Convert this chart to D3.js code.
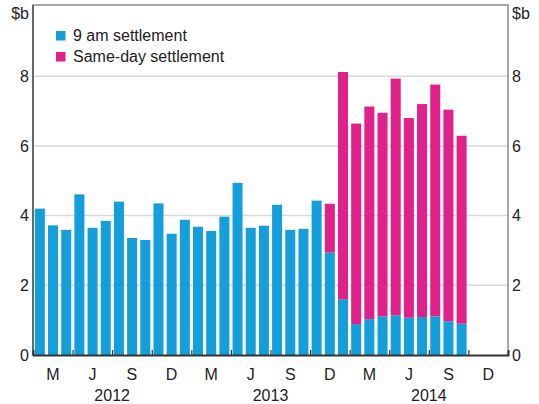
<!DOCTYPE html>
<html>
<head>
<meta charset="utf-8">
<script src="https://cdn.jsdelivr.net/npm/d3@7"></script>
<style>
  body { margin: 0; background: #fff; }
  svg { display: block; font-family: Arial, "Liberation Sans", sans-serif; }
</style>
</head>
<body>
<div id="chart"></div>
<script>
// Months on the axis (Jan 2012 - Dec 2014) and the months that have bars
const axisMonths = d3.timeMonth.range(new Date(2012, 0, 1), new Date(2015, 0, 1)).map(d3.timeFormat("%Y-%m"));
const months = [
  "2012-01", "2012-02", "2012-03", "2012-04", "2012-05", "2012-06",
  "2012-07", "2012-08", "2012-09", "2012-10", "2012-11", "2012-12",
  "2013-01", "2013-02", "2013-03", "2013-04", "2013-05", "2013-06",
  "2013-07", "2013-08", "2013-09", "2013-10", "2013-11", "2013-12",
  "2014-01", "2014-02", "2014-03", "2014-04", "2014-05", "2014-06",
  "2014-07", "2014-08", "2014-09"
];
// $b
const nineAm = [
  4.20, 3.72, 3.59, 4.61, 3.65, 3.85, 4.40, 3.36, 3.30, 4.35, 3.48, 3.88,
  3.68, 3.56, 3.97, 4.94, 3.65, 3.71, 4.31, 3.59, 3.62, 4.43, 2.94, 1.60,
  0.89, 1.03, 1.11, 1.14, 1.07, 1.09, 1.11, 0.97, 0.90
];
const sameDay = [
  0, 0, 0, 0, 0, 0, 0, 0, 0, 0, 0, 0,
  0, 0, 0, 0, 0, 0, 0, 0, 0, 0, 1.40, 6.52,
  5.75, 6.10, 5.84, 6.79, 5.73, 6.11, 6.65, 6.07, 5.39
];
const quarterLabels = ["M", "J", "S", "D"];
const years = ["2012", "2013", "2014"];
const yTicks = [0, 2, 4, 6, 8];
const seriesNames = ["9 am settlement", "Same-day settlement"];
const colors = ["#149fdb", "#e0218a"];

const W = 539, H = 404;
const plot = { left: 33, right: 508, top: 5, bottom: 355 };

const svg = d3.select("#chart").append("svg")
    .attr("width", W)
    .attr("height", H);

const x = d3.scaleBand()
    .domain(axisMonths)
    .range([plot.left, plot.right])
    .paddingInner(0.24)
    .paddingOuter(0.14);

// month index scale for ticks and labels
const xm = d3.scaleLinear().domain([0, axisMonths.length]).range([plot.left, plot.right]);

const y = d3.scaleLinear().domain([0, 10]).range([plot.bottom, 6.5]);

// gridlines
svg.append("g")
  .selectAll("line")
  .data(yTicks.filter(d => d > 0))
  .enter().append("line")
    .attr("x1", plot.left)
    .attr("x2", plot.right)
    .attr("y1", d => y(d))
    .attr("y2", d => y(d))
    .attr("stroke", "#d9d9d9")
    .attr("stroke-width", 1.5);

// stacked bars
const table = months.map((m, i) => ({ month: m, a: nineAm[i], b: sameDay[i] }));
const stacked = d3.stack().keys(["a", "b"])(table);

svg.append("g")
  .selectAll("g")
  .data(stacked)
  .enter().append("g")
    .attr("fill", (d, i) => colors[i])
  .selectAll("rect")
  .data(d => d.filter(p => p[1] > p[0]))
  .enter().append("rect")
    .attr("x", d => x(d.data.month))
    .attr("width", x.bandwidth())
    .attr("y", d => y(d[1]))
    .attr("height", d => y(d[0]) - y(d[1]));

// frame
svg.append("path")
    .attr("d", `M${plot.left},${plot.bottom}V${plot.top}H${plot.right}V${plot.bottom}`)
    .attr("fill", "none")
    .attr("stroke", "#8c8c8c")
    .attr("stroke-width", 1.5);
svg.append("line")
    .attr("x1", plot.left).attr("x2", plot.left)
    .attr("y1", plot.top).attr("y2", plot.bottom)
    .attr("stroke", "#555")
    .attr("stroke-width", 1.5);

// x axis with quarter ticks pointing up
const xAxis = d3.axisBottom(xm)
    .tickValues(d3.range(3, axisMonths.length, 3))
    .tickSize(-5)
    .tickFormat("");

const gx = svg.append("g")
    .attr("transform", `translate(0,${plot.bottom})`)
    .call(xAxis);
gx.select(".domain").attr("stroke", "#333").attr("stroke-width", 2);
gx.selectAll(".tick line").attr("stroke", "#333").attr("stroke-width", 1.2);

svg.append("g")
  .selectAll("text")
  .data(d3.range(axisMonths.length / 3))
  .enter().append("text")
    .attr("x", i => xm(i * 3 + 1.5))
    .attr("y", 379.5)
    .attr("text-anchor", "middle")
    .attr("font-size", 16)
    .attr("fill", "#222")
    .text(i => quarterLabels[i % 4]);

svg.append("g")
  .selectAll("text")
  .data(years)
  .enter().append("text")
    .attr("x", (d, i) => xm(i * 12 + 6))
    .attr("y", 401)
    .attr("text-anchor", "middle")
    .attr("font-size", 16)
    .attr("fill", "#222")
    .text(d => d);

// y axes on both sides
const yLeft = d3.axisLeft(y).tickValues(yTicks).tickSize(0).tickPadding(4);
const yRight = d3.axisRight(y).tickValues(yTicks).tickSize(0).tickPadding(4);

[[yLeft, plot.left], [yRight, plot.right]].forEach(([ax, pos]) => {
    const g = svg.append("g")
        .attr("transform", `translate(${pos},0)`)
        .call(ax);
    g.select(".domain").remove();
    g.selectAll("text")
        .attr("font-size", 16)
        .attr("font-family", "Arial, 'Liberation Sans', sans-serif")
        .attr("fill", "#222");
});

svg.append("text")
    .attr("x", 29)
    .attr("y", 18.5)
    .attr("text-anchor", "end")
    .attr("font-size", 16)
    .attr("fill", "#222")
    .text("$b");
svg.append("text")
    .attr("x", 512)
    .attr("y", 18.5)
    .attr("font-size", 16)
    .attr("fill", "#222")
    .text("$b");

// legend
const legend = svg.append("g")
    .attr("transform", "translate(56,31)");

seriesNames.forEach((name, i) => {
    legend.append("rect")
        .attr("x", 0)
        .attr("y", i * 21)
        .attr("width", 9.5)
        .attr("height", 9.5)
        .attr("fill", colors[i]);
    legend.append("text")
        .attr("x", 17)
        .attr("y", i * 21 + 4.75)
        .attr("dy", "0.35em")
        .attr("font-size", 16)
        .attr("fill", "#222")
        .text(name);
});
</script>
</body>
</html>
